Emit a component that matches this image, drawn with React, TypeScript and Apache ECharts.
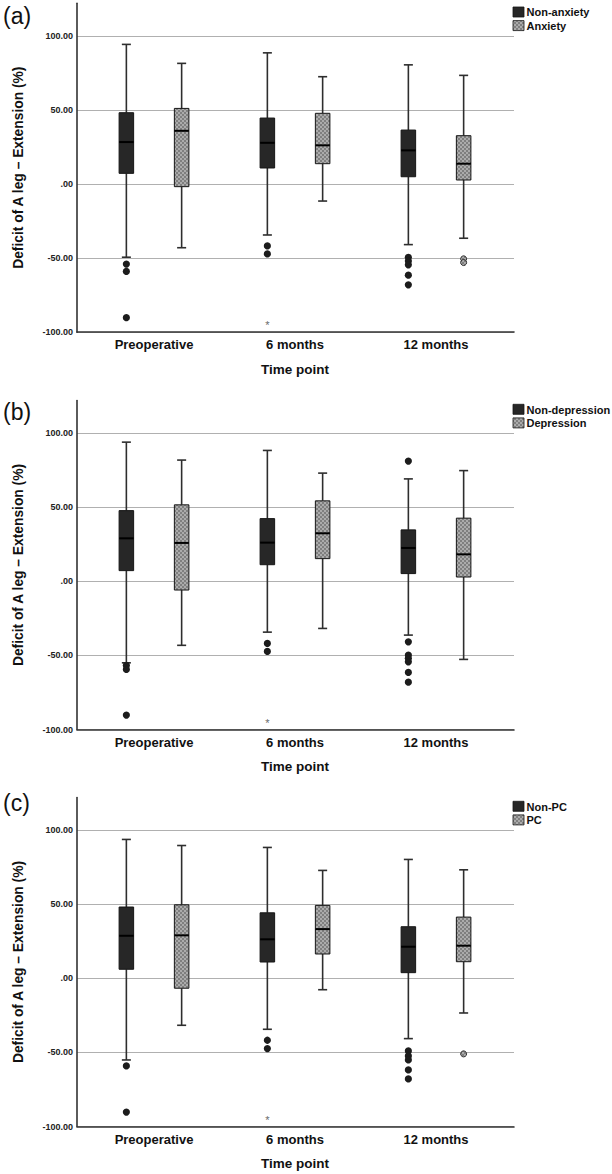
import React, { useEffect, useRef } from 'react';
import * as echarts from 'echarts';

// Time points on the category axis
const categories = ['Preoperative', '6 months', '12 months'];

// Box statistics per time point: [lower whisker, Q1, median, Q3, upper whisker]
const nonAnxietyStats = [
  [-49.4, 7.2, 28.3, 48.1, 94.2],
  [-34.4, 10.8, 27.8, 44.5, 88.5],
  [-40.9, 4.9, 22.7, 36.4, 80.4],
];
const anxietyStats = [
  [-43.0, -1.8, 35.9, 51.0, 81.4],
  [-11.5, 13.7, 26.1, 47.7, 72.4],
  [-36.6, 2.7, 13.7, 32.6, 73.3],
];
const nonAnxietyOutliers = [[-54, -59, -90.2], [-41.8, -47.2], [-49.5, -52, -54.5, -61.5, -68]];
const nonAnxietyExtremes = [[], [-93.5], []];
const anxietyOutliers = [[], [], [-50.5, -53]];

const nonDepressionStats = [
  [-55.0, 7.2, 29.0, 47.7, 93.9],
  [-34.3, 11.2, 26.1, 42.3, 88.3],
  [-36.3, 5.2, 22.5, 34.7, 69.1],
];
const depressionStats = [
  [-43.2, -5.9, 25.9, 51.6, 81.8],
  [-31.8, 15.3, 32.4, 54.3, 73.0],
  [-52.7, 2.9, 18.2, 42.6, 74.7],
];
const nonDepressionOutliers = [[-56.8, -59.5, -90.3], [-41.9, -47.3], [81.1, -40.8, -49.8, -52, -54.3, -61.5, -68.1]];
const nonDepressionExtremes = [[], [-94.2], []];
const depressionOutliers = [[], [], []];

const nonPcStats = [
  [-55.1, 6.1, 28.7, 48.1, 93.7],
  [-34.4, 11.0, 26.3, 44.2, 88.3],
  [-40.7, 3.8, 21.3, 34.8, 80.2],
];
const pcStats = [
  [-31.7, -6.7, 29.0, 49.6, 89.6],
  [-7.7, 16.4, 33.2, 49.2, 72.8],
  [-23.4, 11.2, 22.0, 41.3, 73.2],
];
const nonPcOutliers = [[-59.1, -90.3], [-41.8, -47.4], [-49, -52.4, -55.1, -61.8, -67.9]];
const nonPcExtremes = [[], [-93.7], []];
const pcOutliers = [[], [], [-51]];

// Value axis
const yMin = -100;
const yMax = 122;
const yInterval = 50;

const panels = [
  {
    tag: '(a)', tagY: 16.5, top: 3.2,
    names: ['Non-anxiety', 'Anxiety'],
    stats: [nonAnxietyStats, anxietyStats],
    outliers: [nonAnxietyOutliers, anxietyOutliers],
    extremes: nonAnxietyExtremes,
  },
  {
    tag: '(b)', tagY: 412, top: 400.5,
    names: ['Non-depression', 'Depression'],
    stats: [nonDepressionStats, depressionStats],
    outliers: [nonDepressionOutliers, depressionOutliers],
    extremes: nonDepressionExtremes,
  },
  {
    tag: '(c)', tagY: 803, top: 797.5,
    names: ['Non-PC', 'PC'],
    stats: [nonPcStats, pcStats],
    outliers: [nonPcOutliers, pcOutliers],
    extremes: nonPcExtremes,
  },
];

const FONT = '"Liberation Sans", Arial, sans-serif';
const PLOT_H = 329;
const BOX_OFFSET = 0.196; // box centre offset from category centre, in band widths
const BOX_HALF = 0.0515;
const CAP_HALF = 0.032;
const DARK = '#272727';

// grey checker fill of the second group (2 px cells)
function makeChecker(): any {
  const c = document.createElement('canvas');
  c.width = 4;
  c.height = 4;
  const ctx = c.getContext('2d')!;
  ctx.fillStyle = '#ababab';
  ctx.fillRect(0, 0, 4, 4);
  ctx.fillStyle = '#7f7f7f';
  ctx.fillRect(0, 0, 2, 2);
  ctx.fillRect(2, 2, 2, 2);
  return { image: c, repeat: 'repeat' };
}

function boxRenderer(side: number, fill: any) {
  return (_params: any, api: any) => {
    const cat = api.value(0);
    const band = api.size([1, 0])[0];
    const cx = api.coord([cat, 0])[0] + side * BOX_OFFSET * band;
    const y = (i: number) => api.coord([cat, api.value(i)])[1];
    const yLo = y(1), yQ1 = y(2), yMed = y(3), yQ3 = y(4), yHi = y(5);
    const hw = BOX_HALF * band;
    const cw = CAP_HALF * band;
    const ls = { stroke: '#2e2e2e', lineWidth: 1.6 };
    return {
      type: 'group',
      children: [
        { type: 'line', shape: { x1: cx, y1: yHi, x2: cx, y2: yQ3 }, style: ls },
        { type: 'line', shape: { x1: cx, y1: yQ1, x2: cx, y2: yLo }, style: ls },
        { type: 'line', shape: { x1: cx - cw, y1: yHi, x2: cx + cw, y2: yHi }, style: ls },
        { type: 'line', shape: { x1: cx - cw, y1: yLo, x2: cx + cw, y2: yLo }, style: ls },
        {
          type: 'rect',
          shape: { x: cx - hw, y: yQ3, width: 2 * hw, height: yQ1 - yQ3 },
          style: { fill, stroke: '#151515', lineWidth: 1 },
        },
        { type: 'line', shape: { x1: cx - hw, y1: yMed, x2: cx + hw, y2: yMed }, style: { stroke: '#000', lineWidth: 2 } },
      ],
    };
  };
}

function outlierRenderer(pattern: any) {
  return (_params: any, api: any) => {
    const cat = api.value(0);
    const band = api.size([1, 0])[0];
    const side = api.value(2);
    const kind = api.value(3);
    const cx = api.coord([cat, 0])[0] + side * BOX_OFFSET * band;
    const cy = api.coord([cat, api.value(1)])[1];
    if (kind === 2) {
      return {
        type: 'text',
        x: cx,
        y: cy + 2.5,
        style: { text: '*', fill: '#6a6a6a', font: `11px ${FONT}`, align: 'center', verticalAlign: 'middle' },
      };
    }
    if (kind === 1) {
      return { type: 'circle', shape: { cx, cy, r: 3 }, style: { fill: pattern, stroke: '#333', lineWidth: 1 } };
    }
    return { type: 'circle', shape: { cx, cy, r: 3.6 }, style: { fill: '#1c1c1c' } };
  };
}

export default function App() {
  const ref = useRef<HTMLDivElement>(null);

  useEffect(() => {
    if (!ref.current) return;
    const chart = echarts.init(ref.current, undefined, { renderer: 'svg' });
    const checker = makeChecker();

    const grid: any[] = [];
    const xAxis: any[] = [];
    const yAxis: any[] = [];
    const series: any[] = [];
    const graphic: any[] = [];

    panels.forEach((p, pi) => {
      const frame = pi * 2;
      const plot = pi * 2 + 1;
      grid.push({ left: 77, width: 437, top: p.top, height: PLOT_H });
      grid.push({ left: 83.5, width: 423, top: p.top, height: PLOT_H });

      xAxis.push({
        gridIndex: frame, type: 'value', min: 0, max: 1,
        axisLine: { show: true, onZero: false, lineStyle: { color: '#333', width: 1.6 } },
        axisTick: { show: false }, axisLabel: { show: false }, splitLine: { show: false },
      });
      xAxis.push({
        gridIndex: plot, type: 'category', data: categories, boundaryGap: true,
        axisLine: { show: false }, axisTick: { show: false },
        axisLabel: { fontSize: 13, fontWeight: 'bold', color: '#111', margin: 6, fontFamily: FONT },
        name: 'Time point', nameLocation: 'middle', nameGap: 30,
        nameTextStyle: { fontSize: 13.5, fontWeight: 'bold', color: '#111', fontFamily: FONT },
      });

      yAxis.push({
        gridIndex: frame, type: 'value', min: yMin, max: yMax, interval: yInterval,
        axisLine: { show: true, onZero: false, lineStyle: { color: '#333', width: 1.6 } },
        axisTick: { show: false },
        axisLabel: {
          fontSize: 9, fontWeight: 'bold', color: '#222', margin: 4, fontFamily: FONT,
          formatter: (v: number) => (v % yInterval !== 0 ? '' : v === 0 ? '.00' : v.toFixed(2)),
        },
        splitLine: {
          show: true,
          lineStyle: { color: ['#b0b0b0', '#b0b0b0', '#b0b0b0', '#b0b0b0', '#b0b0b0', 'rgba(0,0,0,0)'], width: 1.2 },
        },
        name: 'Deficit of A leg – Extension (%)', nameLocation: 'middle', nameGap: 52,
        nameTextStyle: { fontSize: 13.8, fontWeight: 'bold', color: '#111', fontFamily: FONT },
      });
      yAxis.push({ gridIndex: plot, type: 'value', min: yMin, max: yMax, interval: yInterval, show: false });

      p.stats.forEach((stats, gi) => {
        series.push({
          type: 'custom',
          name: p.names[gi],
          xAxisIndex: plot,
          yAxisIndex: plot,
          renderItem: boxRenderer(gi === 0 ? -1 : 1, gi === 0 ? DARK : checker),
          encode: { x: 0, y: [1, 2, 3, 4, 5] },
          data: stats.map((s, ci) => [ci, ...s]),
          z: 3,
        });
      });

      const points: number[][] = [];
      p.outliers[0].forEach((vals, ci) => vals.forEach((v) => points.push([ci, v, -1, 0])));
      p.outliers[1].forEach((vals, ci) => vals.forEach((v) => points.push([ci, v, 1, 1])));
      p.extremes.forEach((vals, ci) => vals.forEach((v) => points.push([ci, v, -1, 2])));
      series.push({
        type: 'custom',
        xAxisIndex: plot,
        yAxisIndex: plot,
        renderItem: outlierRenderer(checker),
        encode: { x: 0, y: 1 },
        data: points,
        z: 4,
      });

      // panel tag
      graphic.push({
        type: 'text', left: 3, top: p.tagY - 12,
        style: { text: p.tag, font: `23px ${FONT}`, fill: '#111' },
      });
      // legend
      p.names.forEach((n, gi) => {
        const ly = p.top + 3.8 + gi * 13.6;
        graphic.push({
          type: 'rect', shape: { x: 513, y: ly, width: 11, height: 10 },
          style: { fill: gi === 0 ? DARK : checker, stroke: '#151515', lineWidth: 0.8 },
        });
        graphic.push({
          type: 'text', x: 526.5, y: ly + 5.3,
          style: { text: n, font: `bold 11px ${FONT}`, fill: '#111', verticalAlign: 'middle' },
        });
      });
    });

    chart.setOption({
      animation: false,
      backgroundColor: '#fff',
      grid,
      xAxis,
      yAxis,
      series,
      graphic,
    });

    return () => chart.dispose();
  }, []);

  return <div ref={ref} style={{ position: 'absolute', left: 0, top: 0, width: 612, height: 1174 }} />;
}
